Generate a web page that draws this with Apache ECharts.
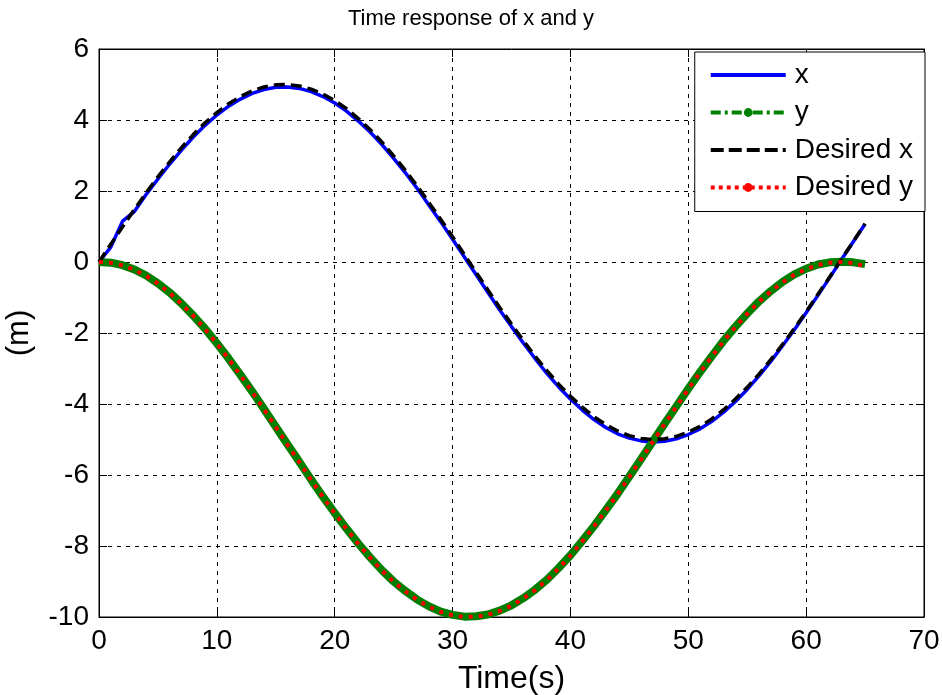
<!DOCTYPE html>
<html>
<head>
<meta charset="utf-8">
<title>Time response of x and y</title>
<script src="https://cdn.jsdelivr.net/npm/echarts@6/dist/echarts.min.js"></script>
<style>
  html, body { margin: 0; padding: 0; background: #fff; }
  #chart { width: 942px; height: 695px; }
</style>
</head>
<body>
<div id="chart"></div>
<script>
// time samples (s)
var time = [0, 1, 2, 3, 4, 5, 6, 7, 8, 9, 10, 11, 12, 13, 14, 15, 16, 17, 18, 19,
  20, 21, 22, 23, 24, 25, 26, 27, 28, 29, 30, 31, 32, 33, 34, 35, 36, 37, 38, 39,
  40, 41, 42, 43, 44, 45, 46, 47, 48, 49, 50, 51, 52, 53, 54, 55, 56, 57, 58, 59,
  60, 61, 62, 63, 64, 65];

// measured x (m)
var xActual = [0, 0.42, 1.15, 1.42, 1.90, 2.34, 2.76, 3.15, 3.52, 3.85,
  4.14, 4.39, 4.59, 4.75, 4.86, 4.92, 4.93, 4.89, 4.80, 4.66,
  4.48, 4.25, 3.97, 3.66, 3.31, 2.92, 2.51, 2.07, 1.60, 1.13,
  0.64, 0.14, -0.36, -0.86, -1.35, -1.82, -2.28, -2.72, -3.14, -3.52,
  -3.86, -4.17, -4.44, -4.66, -4.84, -4.96, -5.04, -5.07, -5.05, -4.98,
  -4.86, -4.70, -4.49, -4.23, -3.93, -3.59, -3.21, -2.80, -2.36, -1.91,
  -1.43, -0.94, -0.44, 0.07, 0.57, 1.07];

// measured y (m)
var yActual = [0, -0.02, -0.09, -0.21, -0.38, -0.60, -0.86, -1.17, -1.51, -1.88,
  -2.29, -2.72, -3.18, -3.65, -4.14, -4.64, -5.14, -5.63, -6.13, -6.61,
  -7.07, -7.51, -7.93, -8.32, -8.68, -9.00, -9.27, -9.51, -9.70, -9.85,
  -9.94, -9.99, -9.98, -9.93, -9.82, -9.67, -9.47, -9.23, -8.95, -8.62,
  -8.26, -7.86, -7.44, -6.99, -6.53, -6.04, -5.55, -5.05, -4.55, -4.06,
  -3.57, -3.10, -2.65, -2.22, -1.82, -1.45, -1.11, -0.82, -0.56, -0.35,
  -0.19, -0.07, -0.01, 0.01, -0.01, -0.06];

// reference x (m)
var xDesired = [0, 0.50, 0.99, 1.48, 1.95, 2.40, 2.82, 3.22, 3.59, 3.92,
  4.21, 4.46, 4.66, 4.82, 4.93, 4.99, 5.00, 4.96, 4.87, 4.73,
  4.55, 4.32, 4.04, 3.73, 3.38, 2.99, 2.58, 2.14, 1.67, 1.20,
  0.71, 0.21, -0.29, -0.79, -1.28, -1.75, -2.21, -2.65, -3.06, -3.44,
  -3.78, -4.09, -4.36, -4.58, -4.76, -4.89, -4.97, -5.00, -4.98, -4.91,
  -4.79, -4.63, -4.42, -4.16, -3.86, -3.53, -3.16, -2.75, -2.32, -1.87,
  -1.40, -0.91, -0.42, 0.08, 0.58, 1.08];

// reference y (m)
var yDesired = [0, -0.02, -0.10, -0.22, -0.39, -0.61, -0.87, -1.18, -1.52, -1.89,
  -2.30, -2.73, -3.19, -3.66, -4.15, -4.65, -5.15, -5.64, -6.14, -6.62,
  -7.08, -7.52, -7.94, -8.33, -8.69, -9.01, -9.28, -9.52, -9.71, -9.86,
  -9.95, -10.00, -9.99, -9.94, -9.83, -9.68, -9.48, -9.24, -8.96, -8.63,
  -8.27, -7.87, -7.45, -7.00, -6.54, -6.05, -5.56, -5.06, -4.56, -4.07,
  -3.58, -3.11, -2.66, -2.23, -1.83, -1.46, -1.12, -0.83, -0.57, -0.36,
  -0.20, -0.08, -0.02, 0.00, -0.03, -0.12];

var xTicks = [0, 10, 20, 30, 40, 50, 60, 70];
var yTicks = [-10, -8, -6, -4, -2, 0, 2, 4, 6];

function pairs(ys) {
  return time.map(function (t, i) { return [t, ys[i]]; });
}

var font = "Arial, 'Liberation Sans', Helvetica, sans-serif";
var gridLine = { show: true, lineStyle: { color: "#000", width: 1, type: [4, 5] } };
var innerTick = { show: true, inside: true, length: 8, lineStyle: { color: "#000" } };
var frameLine = { show: true, onZero: false, lineStyle: { color: "#000", width: 1 } };

var chart = echarts.init(document.getElementById("chart"));
var option = {
  animation: false,
  backgroundColor: "#fff",
  textStyle: { fontFamily: font, color: "#000" },
  title: {
    text: "Time response of x and y",
    left: "center",
    top: 3,
    textStyle: { fontFamily: font, fontSize: 22, fontWeight: "normal", color: "#000" },
  },
  grid: {
    left: 99, right: 18, top: 49, bottom: 78,
    outerBoundsMode: "none",
    containLabel: false,
    show: true, borderColor: "#000", borderWidth: 1,
  },
  legend: {
    orient: "vertical",
    right: 17,
    top: 52,
    padding: [8, 12, 9, 14],
    itemWidth: 75,
    itemHeight: 11,
    itemGap: 7.5,
    backgroundColor: "#fff",
    borderColor: "#000",
    borderWidth: 1,
    borderRadius: 0,
    textStyle: { fontFamily: font, fontSize: 28, color: "#000", lineHeight: 30, padding: [0, 0, 0, 4] },
    data: [
      { name: "x", lineStyle: { width: 4 }, itemStyle: { opacity: 0 } },
      { name: "y", lineStyle: { width: 4, type: [10, 4, 3, 4] } },
      { name: "Desired x", lineStyle: { width: 4, type: [13, 5] }, itemStyle: { opacity: 0 } },
      { name: "Desired y", lineStyle: { width: 4, type: [4, 4] } },
    ],
  },
  xAxis: [
    {
      type: "value",
      min: xTicks[0],
      max: xTicks[xTicks.length - 1],
      interval: 10,
      position: "bottom",
      name: "Time(s)",
      nameLocation: "middle",
      nameGap: 46,
      nameTextStyle: { fontFamily: font, fontSize: 32, color: "#000" },
      axisLine: frameLine,
      axisTick: innerTick,
      axisLabel: { fontFamily: font, fontSize: 28, color: "#000", margin: 10 },
      splitLine: gridLine,
    },
    {
      type: "value",
      min: xTicks[0],
      max: xTicks[xTicks.length - 1],
      interval: 10,
      position: "top",
      axisLine: frameLine,
      axisTick: innerTick,
      axisLabel: { show: false },
      splitLine: { show: false },
    },
  ],
  yAxis: [
    {
      type: "value",
      min: yTicks[0],
      max: yTicks[yTicks.length - 1],
      interval: 2,
      position: "left",
      name: "(m)",
      nameLocation: "middle",
      nameGap: 64,
      nameRotate: 90,
      nameTextStyle: { fontFamily: font, fontSize: 31, color: "#000" },
      axisLine: frameLine,
      axisTick: innerTick,
      axisLabel: { fontFamily: font, fontSize: 28, color: "#000", margin: 10 },
      splitLine: gridLine,
    },
    {
      type: "value",
      min: yTicks[0],
      max: yTicks[yTicks.length - 1],
      interval: 2,
      position: "right",
      axisLine: frameLine,
      axisTick: innerTick,
      axisLabel: { show: false },
      splitLine: { show: false },
    },
  ],
  series: [
    {
      name: "x",
      type: "line",
      data: pairs(xActual),
      symbol: "none",
      color: "#0000ff",
      lineStyle: { color: "#0000ff", width: 3.5 },
      z: 2,
    },
    {
      name: "y",
      type: "line",
      data: pairs(yActual),
      symbol: "circle",
      symbolSize: 9,
      showSymbol: false,
      color: "#008000",
      itemStyle: { color: "#008000" },
      lineStyle: { color: "#008000", width: 8 },
      z: 2,
    },
    {
      name: "Desired x",
      type: "line",
      data: pairs(xDesired),
      symbol: "none",
      color: "#000",
      lineStyle: { color: "#000", width: 3.5, type: [11, 6] },
      z: 3,
    },
    {
      name: "Desired y",
      type: "line",
      data: pairs(yDesired),
      symbol: "circle",
      symbolSize: 9,
      showSymbol: false,
      color: "#ff0000",
      itemStyle: { color: "#ff0000" },
      lineStyle: { color: "#ff0000", width: 4, type: [4, 6] },
      z: 3,
    },
  ],
};
chart.setOption(option);
</script>
</body>
</html>
